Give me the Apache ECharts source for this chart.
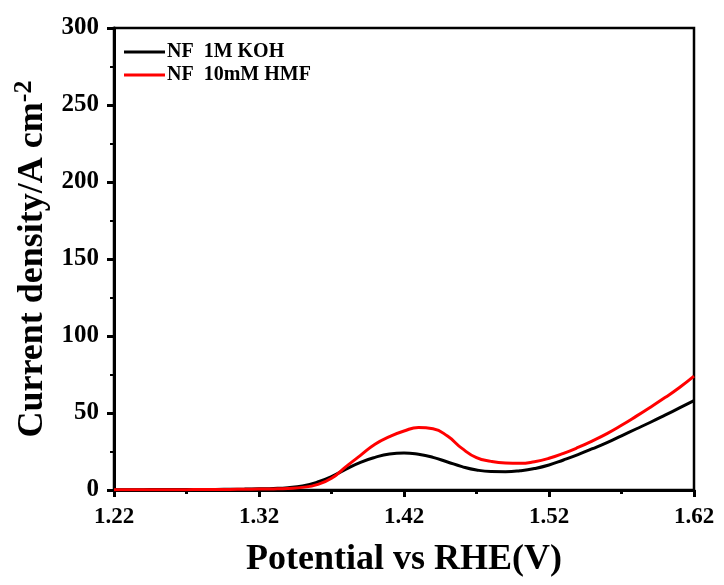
<!DOCTYPE html>
<html>
<head>
<meta charset="utf-8">
<script src="https://cdn.jsdelivr.net/npm/echarts@6/dist/echarts.min.js"></script>
<style>html,body{margin:0;padding:0;background:#fff;}#c{width:724px;height:585px;}</style>
</head>
<body>
<div id="c"></div>
<script>
var potential = [1.22,1.23,1.24,1.25,1.26,1.27,1.28,1.29,1.30,1.31,1.32,1.33,1.34,1.35,1.36,1.37,1.38,1.39,1.40,1.41,1.42,1.43,1.44,1.45,1.46,1.47,1.48,1.49,1.50,1.51,1.52,1.53,1.54,1.55,1.56,1.57,1.58,1.59,1.60,1.61,1.62];
var kohCurrent = [0.2,0.2,0.2,0.3,0.3,0.3,0.4,0.4,0.5,0.6,0.8,1.0,1.5,2.6,5.0,8.7,13.6,18.0,21.2,23.4,24.1,23.2,21.2,18.2,15.2,13.0,12.0,11.9,12.5,13.9,16.2,19.5,23.0,26.8,30.8,35.2,39.6,44.0,48.6,53.3,58.0];
var hmfCurrent = [0.1,0.1,0.1,0.2,0.2,0.2,0.3,0.3,0.4,0.5,0.6,0.7,1.0,1.7,3.5,7.6,15.2,22.5,29.7,34.6,38.3,40.6,39.8,35.0,27.0,21.0,18.6,17.5,17.3,18.4,20.6,23.8,27.6,31.9,36.6,42.0,47.8,53.8,60.0,66.6,74.0];
var xMajorTicks = [1.22,1.32,1.42,1.52,1.62];
var xMinorTicks = [1.27,1.37,1.47,1.57];
var seriesNames = ['NF  1M KOH','NF  10mM HMF'];

function pairs(xs, ys){ return xs.map(function(x,i){ return [x, ys[i]]; }); }

var font = 'Liberation Serif';
var chart = echarts.init(document.getElementById('c'), null, {renderer:'canvas'});
chart.setOption({
  animation: false,
  backgroundColor: '#fff',
  grid: {left:114, right:30, top:28, bottom:95, show:true, borderColor:'#000', borderWidth:2.5, backgroundColor:'transparent'},
  legend: {
    left: 119, top: 37, orient: 'vertical', itemGap: 3,
    itemWidth: 41, itemHeight: 20, itemStyle:{borderWidth:0}, icon: 'path://M0,8.5 L41,8.5 L41,11.5 L0,11.5 Z',
    textStyle: {fontFamily: font, fontWeight:'bold', fontSize:20, color:'#000', padding:[0,0,0,-3]},
    data: [{name:seriesNames[0], itemStyle:{color:'#000'}},{name:seriesNames[1], itemStyle:{color:'#ff0000'}}]
  },
  xAxis: [{
    type:'value', min:1.22, max:1.62, position:'bottom',
    name:'Potential vs RHE(V)', nameLocation:'middle', nameGap:52,
    nameTextStyle:{fontFamily:font, fontWeight:'bold', fontSize:36, color:'#000'},
    axisLine:{show:true, onZero:false, lineStyle:{color:'#000', width:3}},
    axisTick:{show:true, customValues:xMajorTicks, length:7, lineStyle:{color:'#000', width:3}},
    axisLabel:{customValues:xMajorTicks, fontFamily:font, fontWeight:'bold', fontSize:23, color:'#000', margin:16,
      formatter:function(v){return v.toFixed(2);}},
    splitLine:{show:false}
  },{
    type:'value', min:1.22, max:1.62, position:'bottom', gridIndex:0,
    axisLine:{show:false},
    axisTick:{show:true, customValues:xMinorTicks, length:4, lineStyle:{color:'#000', width:3}},
    axisLabel:{show:false}, splitLine:{show:false}
  }],
  yAxis: {
    type:'value', min:0, max:300, interval:50,
    name:'Current density/A cm{sup|-2}', nameLocation:'middle', nameGap:53, nameRotate:90,
    nameTextStyle:{fontFamily:font, fontWeight:'bold', fontSize:36, color:'#000',
      rich:{sup:{fontFamily:font, fontWeight:'bold', fontSize:26, color:'#000', verticalAlign:'top', padding:[0,0,16,0]}}},
    axisLine:{show:true, onZero:false, lineStyle:{color:'#000', width:3}},
    axisTick:{show:true, length:7, lineStyle:{color:'#000', width:3}},
    minorTick:{show:true, splitNumber:2, length:4, lineStyle:{color:'#000', width:2}},
    axisLabel:{fontFamily:font, fontWeight:'bold', fontSize:25, color:'#000', margin:15},
    splitLine:{show:false}
  },
  series: [
    {name:seriesNames[0], type:'line', data:pairs(potential,kohCurrent), smooth:true, showSymbol:false, symbol:'none',
     lineStyle:{color:'#000', width:3}, itemStyle:{color:'#000'}},
    {name:seriesNames[1], type:'line', data:pairs(potential,hmfCurrent), smooth:true, showSymbol:false, symbol:'none',
     lineStyle:{color:'#ff0000', width:3}, itemStyle:{color:'#ff0000'}}
  ]
});
</script>
</body>
</html>
